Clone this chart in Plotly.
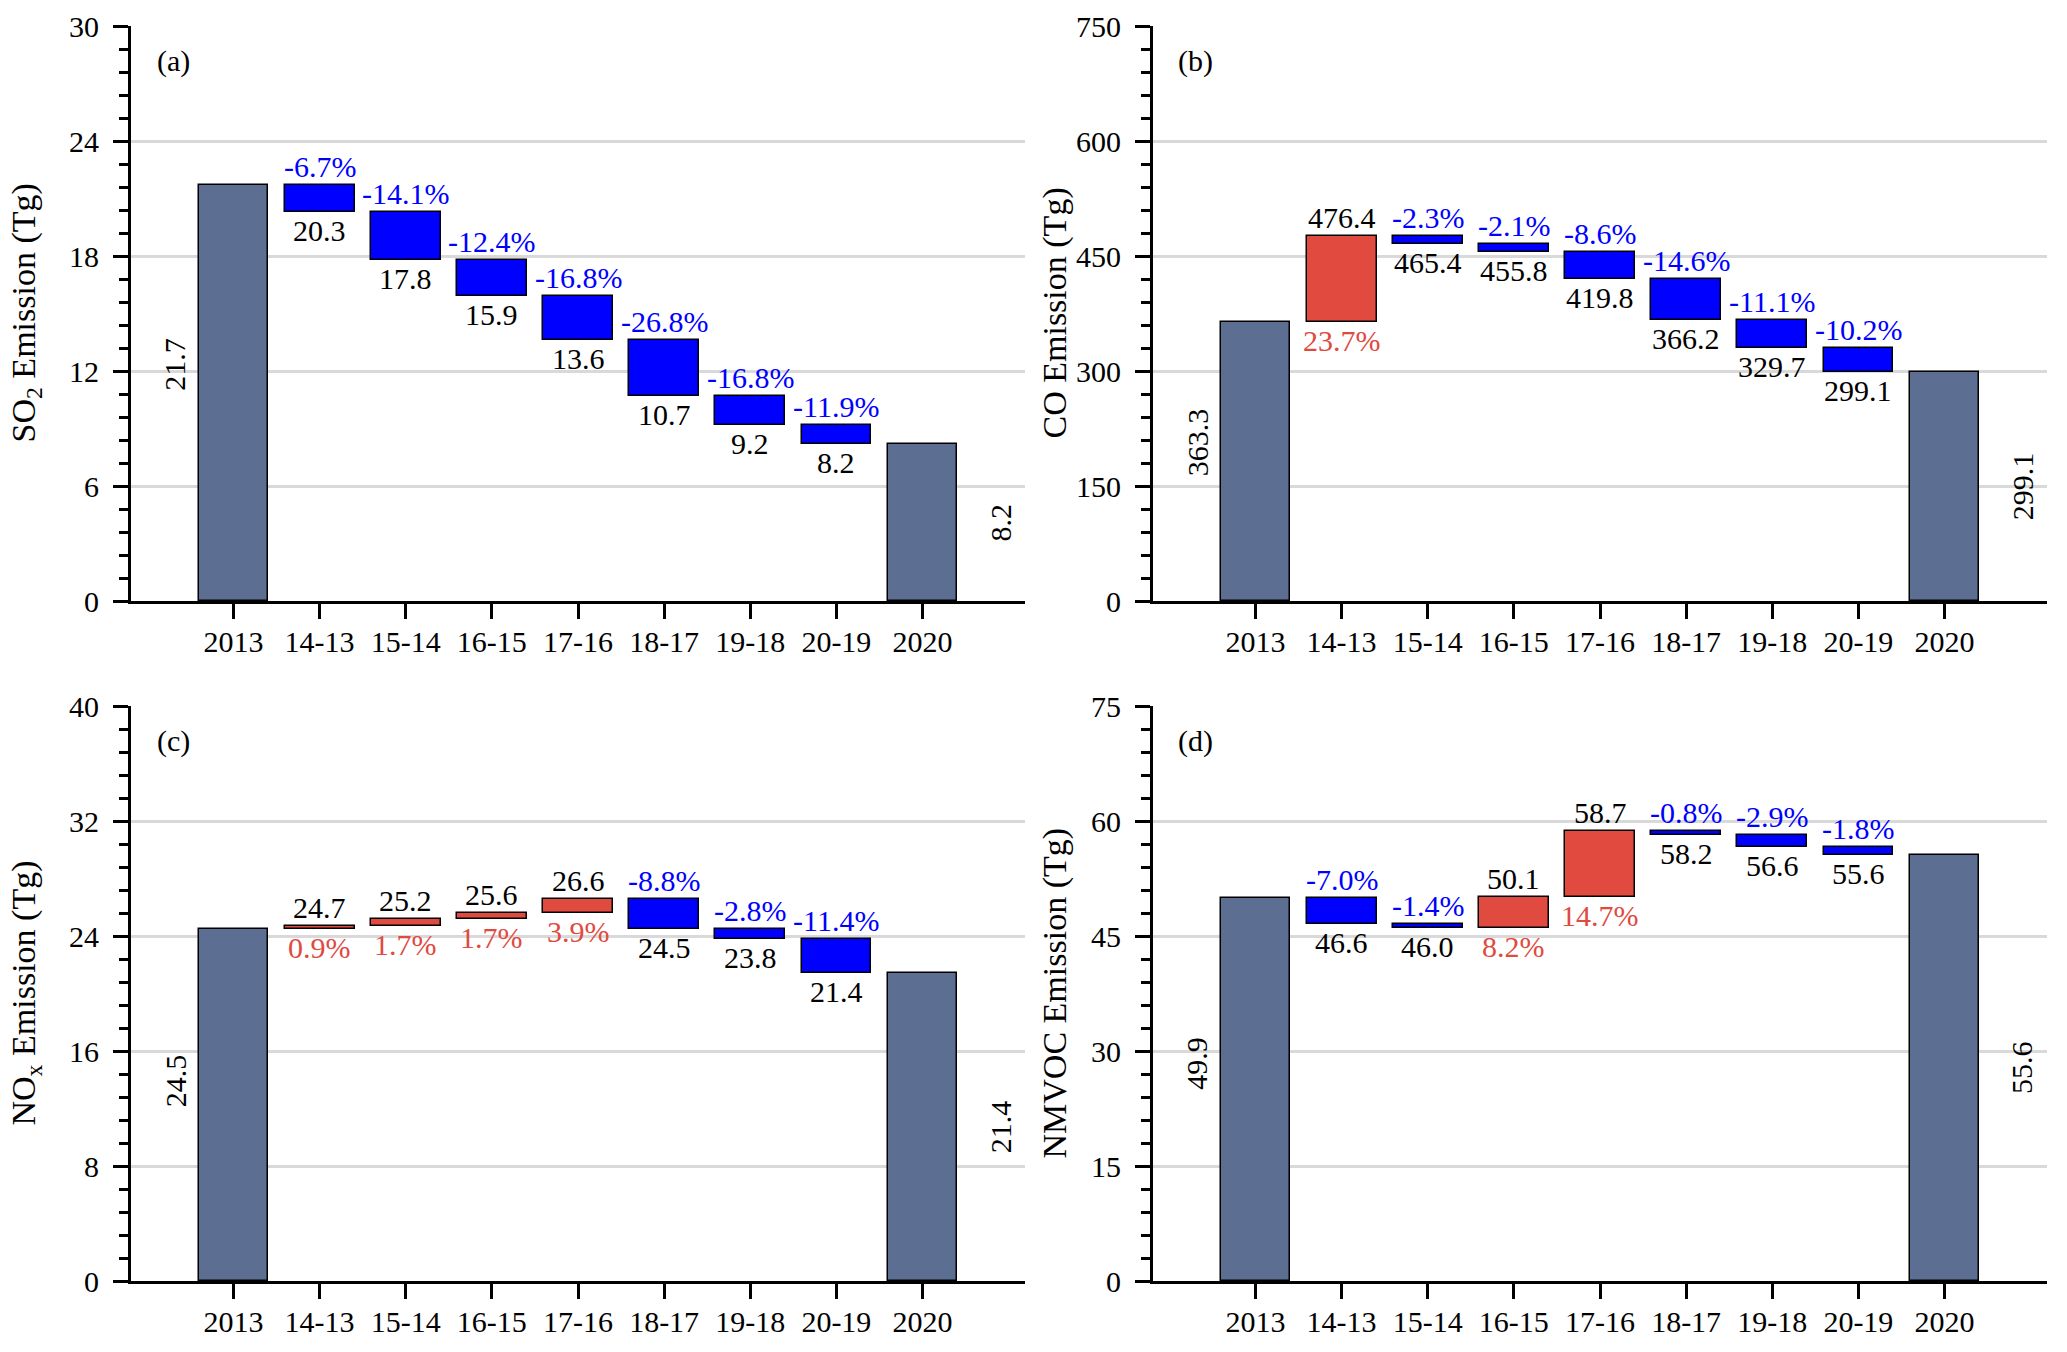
import plotly.graph_objects as go

categories = ["2013", "14-13", "15-14", "16-15", "17-16", "18-17", "19-18", "20-19", "2020"]

# Emission levels: 2013 value followed by the end value of each yearly step (Tg)
so2_levels = [21.7, 20.3, 17.8, 15.9, 13.6, 10.7, 9.2, 8.2]
so2_2020 = 8.2
so2_pct = [-6.7, -14.1, -12.4, -16.8, -26.8, -16.8, -11.9]

co_levels = [363.3, 476.4, 465.4, 455.8, 419.8, 366.2, 329.7, 299.1]
co_2020 = 299.1
co_pct = [23.7, -2.3, -2.1, -8.6, -14.6, -11.1, -10.2]

nox_levels = [24.5, 24.7, 25.2, 25.6, 26.6, 24.5, 23.8, 21.4]
nox_2020 = 21.4
nox_pct = [0.9, 1.7, 1.7, 3.9, -8.8, -2.8, -11.4]

nmvoc_levels = [49.9, 46.6, 46.0, 50.1, 58.7, 58.2, 56.6, 55.6]
nmvoc_2020 = 55.6
nmvoc_pct = [-7.0, -1.4, 8.2, 14.7, -0.8, -2.9, -1.8]

panel_letters = ["(a)", "(b)", "(c)", "(d)"]
y_titles = ["SO<sub>2</sub> Emission (Tg)", "CO Emission (Tg)",
            "NO<sub>x</sub> Emission (Tg)", "NMVOC Emission (Tg)"]
y_max = [30, 750, 40, 75]
y_dtick = [6, 150, 8, 15]

TOTAL = "#5c6f92"
UP = "#e04a3f"
DOWN = "#0000ff"
FONT = "Liberation Serif, Times New Roman, Times, serif"
FS = 30
TFS = 34

W, H = 2067, 1352
ML, MR, MT, MB = 131, 20, 26, 71
pw, ph = W - ML - MR, H - MT - MB


def xd(a, b):
    return [(a - ML) / pw, (b - ML) / pw]


def yd(top, bot):
    return [(H - MB - bot) / ph, (H - MB - top) / ph]


xdoms = [xd(131, 1025), xd(1153, 2047), xd(131, 1025), xd(1153, 2047)]
ydoms = [yd(26, 601), yd(26, 601), yd(706, 1281), yd(706, 1281)]
# left edge (px) of the rotated y-axis titles
title_left_px = [2, 1033, 2, 1033]

fig = go.Figure()
annotations = []

datasets = [(so2_levels, so2_2020, so2_pct), (co_levels, co_2020, co_pct),
            (nox_levels, nox_2020, nox_pct), (nmvoc_levels, nmvoc_2020, nmvoc_pct)]

for k, (levels, final, pct) in enumerate(datasets):
    xa = "x" if k == 0 else f"x{k+1}"
    ya = "y" if k == 0 else f"y{k+1}"
    bases, heights, colors = [0], [levels[0]], [TOTAL]
    for i in range(1, len(levels)):
        s, e = levels[i - 1], levels[i]
        bases.append(min(s, e))
        heights.append(abs(e - s))
        colors.append(UP if e > s else DOWN)
    bases.append(0)
    heights.append(final)
    colors.append(TOTAL)
    fig.add_trace(go.Bar(
        x=categories, y=heights, base=bases, width=0.81,
        marker=dict(color=colors, line=dict(color="black", width=1.5)),
        xaxis=xa, yaxis=ya, showlegend=False, hoverinfo="skip"))

    # step labels
    for i in range(1, len(levels)):
        s, e = levels[i - 1], levels[i]
        up = e > s
        pct_txt = f"{pct[i-1]:.1f}%"
        val_txt = f"{e:.1f}"
        pcol = UP if up else DOWN
        top_txt, top_col = (val_txt, "black") if up else (pct_txt, pcol)
        bot_txt, bot_col = (pct_txt, pcol) if up else (val_txt, "black")
        annotations.append(dict(x=i, y=max(s, e), xref=xa, yref=ya, text=top_txt,
                                showarrow=False, yanchor="bottom", xanchor="center",
                                font=dict(family=FONT, size=FS, color=top_col)))
        annotations.append(dict(x=i, y=min(s, e), xref=xa, yref=ya, text=bot_txt,
                                showarrow=False, yanchor="top", xanchor="center",
                                font=dict(family=FONT, size=FS, color=bot_col)))
    # total labels (rotated)
    annotations.append(dict(x=-0.68, y=levels[0] * 0.57, xref=xa, yref=ya,
                            text=f"{levels[0]:.1f}", textangle=-90, showarrow=False,
                            xanchor="center", yanchor="middle",
                            font=dict(family=FONT, size=FS, color="black")))
    annotations.append(dict(x=8.9, y=final * 0.5, xref=xa, yref=ya,
                            text=f"{final:.1f}", textangle=-90, showarrow=False,
                            xanchor="center", yanchor="middle",
                            font=dict(family=FONT, size=FS, color="black")))
    # panel letter
    annotations.append(dict(x=0.047, y=0.94, xref=f"{xa} domain", yref=f"{ya} domain",
                            text=panel_letters[k], showarrow=False,
                            xanchor="center", yanchor="middle",
                            font=dict(family=FONT, size=FS, color="black")))
    # y-axis title
    annotations.append(dict(x=(title_left_px[k] - ML) / pw,
                            y=(ydoms[k][0] + ydoms[k][1]) / 2,
                            xref="paper", yref="paper", text=y_titles[k],
                            textangle=-90, showarrow=False,
                            xanchor="left", yanchor="middle",
                            font=dict(family=FONT, size=TFS, color="black")))

    sfx = "" if k == 0 else str(k + 1)
    fig.layout[f"xaxis{sfx}"] = dict(
        domain=xdoms[k], anchor=ya, type="category", range=[-1.19, 9.19],
        showline=True, linewidth=3, linecolor="black", showgrid=False,
        ticks="outside", ticklen=15, tickwidth=2.5, tickcolor="black",
        ticklabelstandoff=-3, zeroline=False,
        tickfont=dict(family=FONT, size=FS, color="black"))
    fig.layout[f"yaxis{sfx}"] = dict(
        domain=ydoms[k], anchor=xa, range=[0, y_max[k]], dtick=y_dtick[k], tick0=0,
        showline=True, linewidth=3, linecolor="black",
        showgrid=True, gridcolor="#d9d9d9", gridwidth=2.5, zeroline=False,
        ticks="outside", ticklen=15, tickwidth=2.5, tickcolor="black",
        ticklabelstandoff=8,
        minor=dict(ticks="outside", ticklen=9, tickwidth=2.5, tickcolor="black",
                   dtick=y_dtick[k] / 5, showgrid=False),
        tickfont=dict(family=FONT, size=FS, color="black"))

fig.update_layout(
    width=W, height=H,
    margin=dict(l=ML, r=MR, t=MT, b=MB, autoexpand=False),
    plot_bgcolor="white", paper_bgcolor="white",
    annotations=annotations, bargap=0,
    font=dict(family=FONT, size=FS, color="black"),
)

fig.write_html("out.html", config={"displayModeBar": False},
               post_script="document.body.style.margin='0';document.body.style.overflow='hidden';")
